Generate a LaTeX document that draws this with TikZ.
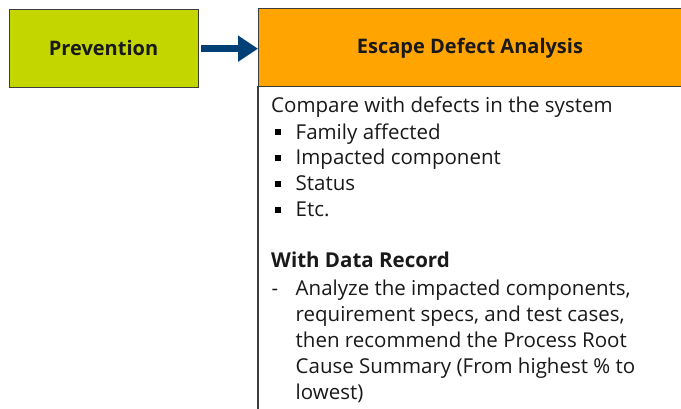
\documentclass[tikz,border=0pt]{standalone}
\usepackage{fontspec}
\setmainfont{Open Sans}
\usetikzlibrary{arrows.meta}
\definecolor{limefill}{RGB}{196,214,0}
\definecolor{orangefill}{RGB}{255,164,0}
\definecolor{arrowblue}{RGB}{0,64,118}
\definecolor{edgegray}{RGB}{60,60,60}
\definecolor{textdark}{RGB}{25,25,25}
\tikzset{
  stagebox/.style={draw=edgegray, line width=1.3pt, inner sep=0pt},
  bodyline/.style={anchor=base west, inner sep=0pt, text=textdark, font=\fontsize{20.5}{24}\selectfont},
  headtext/.style={text=textdark, font=\fontsize{20}{24}\selectfont\bfseries},
  bulletmark/.style={fill=black, minimum size=6pt, inner sep=0pt}
}
\begin{document}
\begin{tikzpicture}[x=1pt,y=-1pt]
  \useasboundingbox (0,0) rectangle (681,409);
  \begin{scope}
    \clip (0,0) rectangle (681,409);
    % left stage box
    \node[stagebox, fill=limefill, minimum width=189pt, minimum height=78pt, anchor=north west]
      (prev) at (9,9) {};
    \node[headtext] (prevtxt) at (103.5,48.5) {Prevention};
    % right stage header, running off the right edge
    \node[stagebox, fill=orangefill, minimum width=440pt, minimum height=78pt, anchor=north west]
      (hdr) at (258,8) {};
    \node[headtext] (hdrtxt) at (470,48) {Escape Defect Analysis};
    % body outline: only the left edge is shown
    \coordinate (bodytop) at (258,86);
    \coordinate (bodybot) at (258,412);
    \draw[draw=edgegray, line width=1.3pt] (bodytop) -- (bodybot);
    % connector
    \draw[arrowblue, line width=7pt, -{Triangle[length=20pt, width=25pt]}]
      (prev.east) ++(2,0) coordinate (arrstart) -- (arrstart -| hdr.west);
  \end{scope}
  % body text
  \node[bodyline] (l1) at (271,113) {Compare with defects in the system};
  \node[bulletmark] (b1) at (277.5,132.5) {};
  \node[bodyline] (l2) at (295.5,139.5) {Family affected};
  \node[bulletmark] (b2) at (277.5,158.5) {};
  \node[bodyline] (l3) at (295.5,165) {Impacted component};
  \node[bulletmark] (b3) at (277.5,184) {};
  \node[bodyline] (l4) at (295.5,190.5) {Status};
  \node[bulletmark] (b4) at (277.5,210) {};
  \node[bodyline] (l5) at (295.5,216.5) {Etc.};
  \node[bodyline, font=\fontsize{20.5}{24}\selectfont\bfseries] (l6) at (271,267.5) {With Data Record};
  \node[bodyline] (dash) at (271.5,295) {-};
  \node[bodyline] (l7) at (295.5,295) {Analyze the impacted components,};
  \node[bodyline] (l8) at (295.5,321.5) {requirement specs, and test cases,};
  \node[bodyline] (l9) at (295.5,347) {then recommend the Process Root};
  \node[bodyline] (l10) at (295.5,373.5) {Cause Summary (From highest \% to};
  \node[bodyline] (l11) at (295.5,399) {lowest)};
\end{tikzpicture}
\end{document}
